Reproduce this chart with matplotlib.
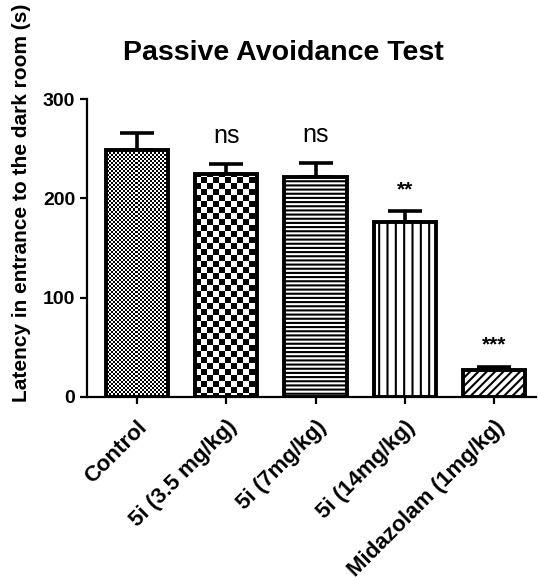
import numpy as np
import matplotlib.pyplot as plt

groups = ['Control', '5i (3.5 mg/kg)', '5i (7mg/kg)', '5i (14mg/kg)', 'Midazolam (1mg/kg)']
latency = [249, 224, 221, 176, 27]
sem = [17, 11, 15, 11, 3]
marks = ['', 'ns', 'ns', '**', '***']
hatches = [None, None, '----', '||', '////']

plt.rcParams['font.family'] = ['Liberation Sans', 'DejaVu Sans']
plt.rcParams['hatch.linewidth'] = 1.5

fig = plt.figure(figsize=(5.39, 5.77), dpi=100)
ax = fig.add_axes([0.1614, 0.312, 0.833, 0.5164])

x = np.arange(len(groups))
ax.errorbar(x, latency, yerr=[np.zeros(len(x)), sem], fmt='none', ecolor='black',
            elinewidth=2.6, capsize=12, capthick=2.6, zorder=1)
bars = ax.bar(x, latency, width=0.7, color='white', edgecolor='black', linewidth=2.8, zorder=3)
for b, h in zip(bars, hatches):
    if h:
        b.set_hatch(h)

# checker textures for the first two bars
def checker(cell, w, h):
    yy, xx = np.mgrid[0:h, 0:w]
    return ((xx // cell + yy // cell) % 2).astype(float)

W, H = 449, 298
for i, cell in [(0, 2), (1, 6)]:
    bars[i].set_facecolor('none')
    im = ax.imshow(checker(cell, W, H), cmap='gray', vmin=0, vmax=1,
                   extent=(-0.56, 4.47, 0, 300), aspect='auto',
                   interpolation='nearest', zorder=2)
    im.set_clip_path(bars[i])
ax.set_xlim(-0.56, 4.47)
ax.set_ylim(0, 300)

for xi, v, e, m in zip(x, latency, sem, marks):
    if m == 'ns':
        ax.text(xi, v + e + 28, m, ha='center', va='center', fontsize=18)
    elif m:
        ax.text(xi, v + e + 22, m, ha='center', va='center', fontsize=15, fontweight='bold')

ax.spines['top'].set_visible(False)
ax.spines['right'].set_visible(False)
for s in ['left', 'bottom']:
    ax.spines[s].set_linewidth(1.6)
ax.set_yticks([0, 100, 200, 300])
ax.set_xticks(x)
ax.set_xticklabels(groups, rotation=45, ha='right', va='top', rotation_mode='anchor')
ax.tick_params(axis='both', width=1.6, length=5, labelsize=14)
ax.tick_params(axis='x', labelsize=16, pad=9)
for lab in ax.get_xticklabels() + ax.get_yticklabels():
    lab.set_fontweight('bold')

fig.text(0.525, 0.908, 'Passive Avoidance Test', ha='center', va='center',
         fontsize=20.5, fontweight='bold')
fig.text(0.039, 0.648, 'Latency in entrance to the dark room (s)', rotation=90,
         ha='center', va='center', fontsize=15, fontweight='bold')

fig.savefig('out.png', dpi=100)
